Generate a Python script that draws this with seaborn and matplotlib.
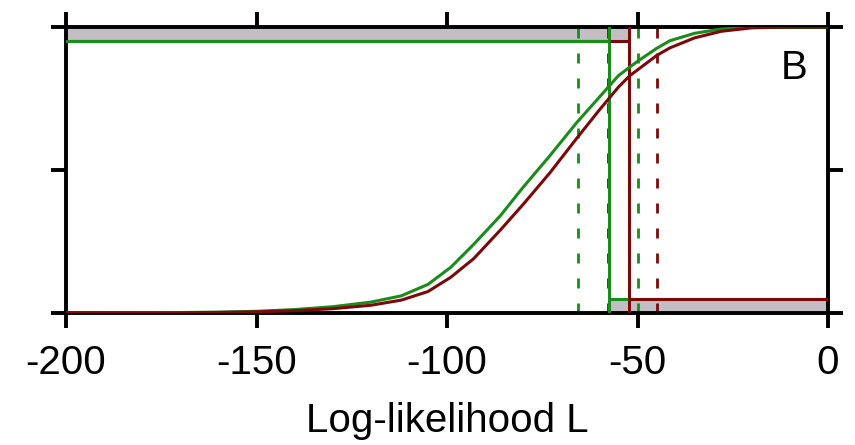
import numpy as np
import pandas as pd
import matplotlib
matplotlib.use("Agg")
import matplotlib.pyplot as plt
import seaborn as sns

# Data
L_green = [-200, -175, -160, -150, -140, -130, -120, -112, -105, -99, -93, -86, -80,
           -73, -66, -60, -55, -50, -45, -41.5, -35, -28, -20, -10, 0]
green_cdf = [0.0, 0.001, 0.003, 0.006, 0.012, 0.022, 0.038, 0.06, 0.10, 0.16, 0.24, 0.34,
             0.44, 0.55, 0.665, 0.755, 0.83, 0.88, 0.925, 0.952, 0.978, 0.993, 0.999,
             1.0, 1.0]
L_red = [-200, -175, -160, -150, -140, -130, -120, -112, -105, -99, -93, -86, -80,
         -73, -66, -60, -55, -52, -45, -41.5, -35, -28, -20, -10, 0]
red_cdf = [0.0, 0.0, 0.002, 0.004, 0.008, 0.015, 0.027, 0.045, 0.075, 0.125, 0.19, 0.29,
           0.38, 0.49, 0.61, 0.71, 0.79, 0.83, 0.90, 0.927, 0.962, 0.985, 0.997,
           1.0, 1.0]

green_solid = -57.5
green_dashed = [-65.6, -49.9]
red_solid = -52.2
red_dashed = [-57.8, -44.9]
lower_level = 0.05
upper_level = 0.95

x_ticks = [-200, -150, -100, -50, 0]
x_ticklabels = ["-200", "-150", "-100", "-50", "0"]
y_ticks = [0, 0.5, 1]
xlabel = "Log-likelihood L"
panel_label = "B"

GREEN = "#1c8a1c"
RED = "#7a0a0a"
GRAY = "#c3bec3"

sns.set_theme(style="white")
plt.rcParams["font.family"] = ["Liberation Sans", "DejaVu Sans"]
plt.rcParams["text.color"] = "black"
plt.rcParams["axes.labelcolor"] = "black"
plt.rcParams["xtick.color"] = "black"
plt.rcParams["ytick.color"] = "black"

fig = plt.figure(figsize=(8.55, 4.45), dpi=100)
ax = fig.add_axes([66 / 855, 1 - 313 / 445, (828 - 66) / 855, (313 - 27) / 445])

# gray bands
ax.fill_between([-200, red_solid], upper_level, 1, color=GRAY, lw=0, zorder=1)
ax.fill_between([green_solid, 0], 0, lower_level, color=GRAY, lw=0, zorder=1)

df = pd.DataFrame({"L": L_green + L_red,
                   "cdf": green_cdf + red_cdf,
                   "model": ["green"] * len(L_green) + ["red"] * len(L_red)})

dash = (0, (3.6, 5.4))
for xv in red_dashed:
    ax.axvline(xv, color=RED, lw=2.0, ls=dash, zorder=2)
for xv in green_dashed:
    ax.axvline(xv, color=GREEN, lw=2.0, ls=dash, zorder=2)
ax.axvline(green_solid, color=GREEN, lw=2.2, zorder=3)
ax.axvline(red_solid, color=RED, lw=2.2, zorder=3)

# horizontal threshold lines
ax.plot([-200, red_solid], [upper_level, upper_level], color=RED, lw=2.2, zorder=3)
ax.plot([-200, green_solid], [upper_level, upper_level], color=GREEN, lw=2.2, zorder=4)
ax.plot([green_solid, 0], [lower_level, lower_level], color=GREEN, lw=2.2, zorder=3)
ax.plot([red_solid, 0], [lower_level, lower_level], color=RED, lw=2.2, zorder=4)

sns.lineplot(data=df, x="L", y="cdf", hue="model", sort=False,
             palette={"green": GREEN, "red": RED}, lw=2.2, legend=False,
             ax=ax, zorder=5)
for ln in ax.lines[-2:]:
    ln.set_solid_joinstyle("round")

ax.set_xlim(-200, 0)
ax.set_ylim(0, 1)
ax.set_xticks(x_ticks)
ax.set_xticklabels(x_ticklabels)
ax.set_yticks(y_ticks)
ax.set_yticklabels([])
ax.set_xlabel(xlabel, fontsize=29, labelpad=15, color="black")
ax.set_ylabel("")
ax.tick_params(axis="x", which="both", direction="out", length=11, width=2.8,
               top=True, bottom=True, labelsize=29, pad=11, color="black",
               labelcolor="black")
ax.tick_params(axis="y", which="both", direction="out", length=11, width=2.8,
               left=True, right=True, color="black")
for s in ax.spines.values():
    s.set_visible(True)
    s.set_color("black")
    s.set_linewidth(2.8)

ax.text(-8.9, 0.857, panel_label, fontsize=29, ha="center", va="center",
        color="black", zorder=6)

fig.savefig("out.png", dpi=100)
